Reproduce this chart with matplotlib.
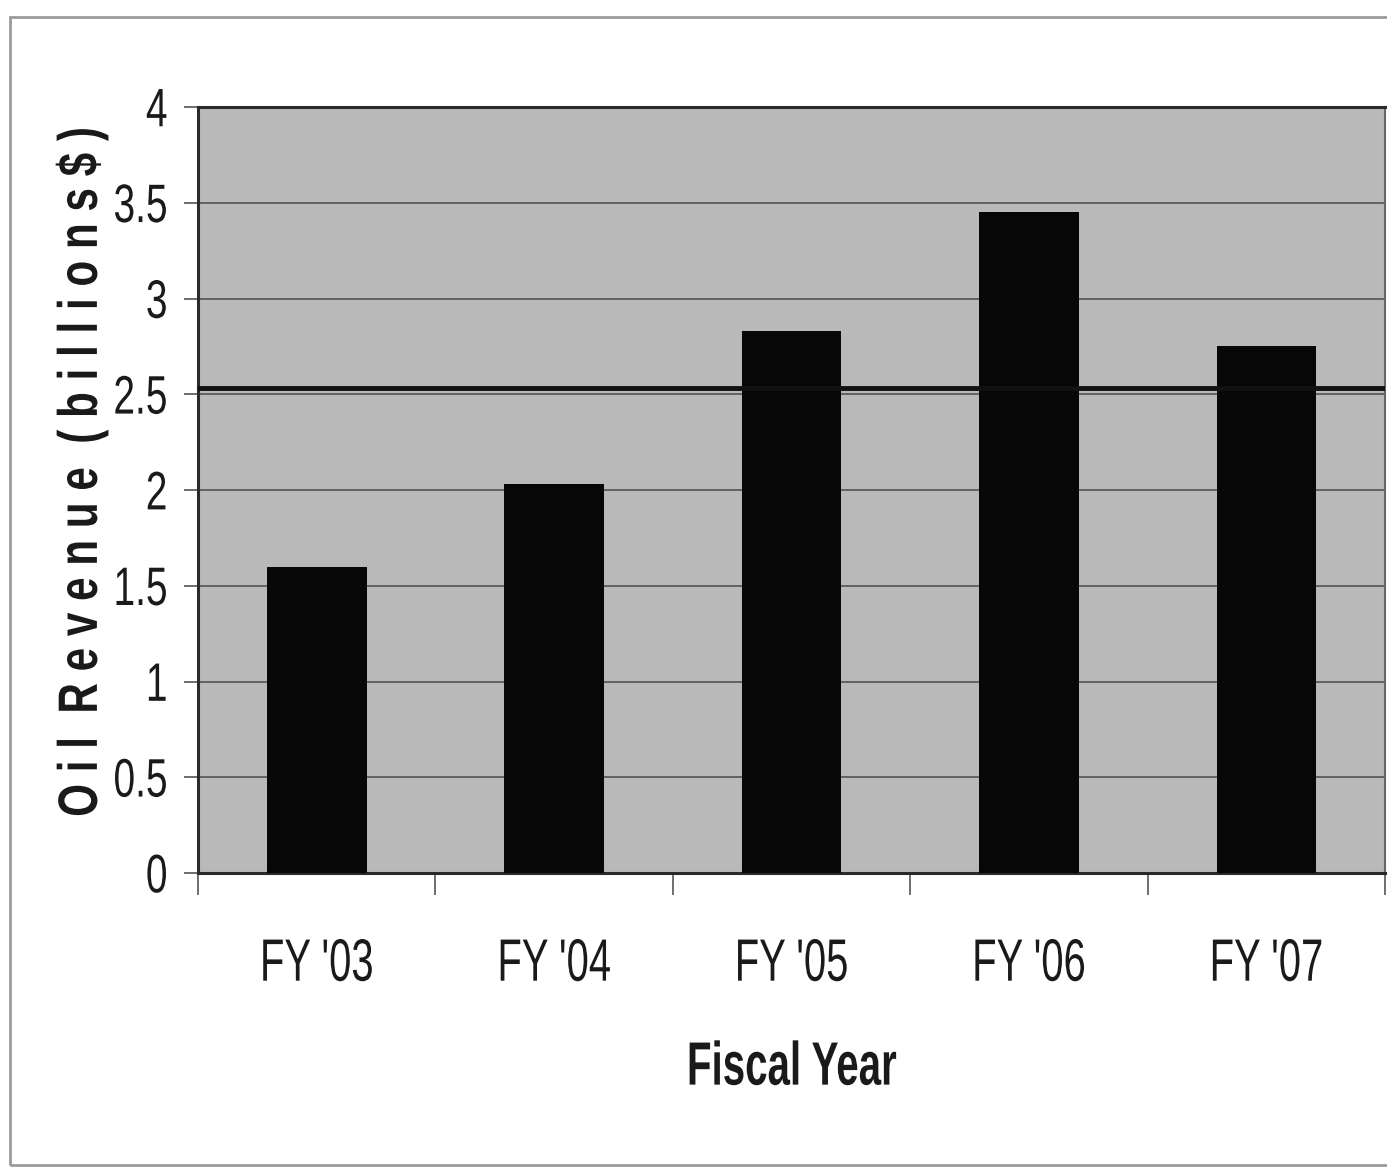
import matplotlib
matplotlib.use("Agg")
import matplotlib.pyplot as plt
import numpy as np
from matplotlib.patches import Rectangle
from matplotlib.patheffects import AbstractPathEffect
from matplotlib.transforms import Affine2D

categories = ["FY '03", "FY '04", "FY '05", "FY '06", "FY '07"]
revenue = [1.60, 2.03, 2.83, 3.45, 2.75]
yticks = [0, 0.5, 1, 1.5, 2, 2.5, 3, 3.5, 4]
ytick_labels = ["0", "0.5", "1", "1.5", "2", "2.5", "3", "3.5", "4"]
average = float(np.mean(revenue))

plt.rcParams['font.family'] = ["Liberation Sans", "DejaVu Sans"]


class Stretch(AbstractPathEffect):
    """Stretch glyphs vertically (about their centre) to imitate a narrow typeface."""
    def __init__(self, sy):
        super().__init__()
        self.sy = sy

    def draw_path(self, renderer, gc, tpath, affine, rgbFace=None):
        v = tpath.vertices
        if len(v) == 0:
            return renderer.draw_path(gc, tpath, affine, rgbFace)
        c = (v[:, 1].min() + v[:, 1].max()) / 2
        t = Affine2D().translate(0, -c).scale(1, self.sy).translate(0, c)
        renderer.draw_path(gc, tpath, t + affine, rgbFace)


fig = plt.figure(figsize=(13.87, 11.70), dpi=100)
fig.patch.set_facecolor("white")
ax = fig.add_axes([0.1428, 0.2538, 0.8558, 0.6547])
ax.set_facecolor("#b9b9b9")

x = np.arange(len(categories))
ax.bar(x, revenue, width=0.42, color="#070707", zorder=3)
ax.axhline(average, color="#111111", lw=3.5, zorder=4)

ax.set_xlim(-0.5, len(categories) - 0.5)
ax.set_ylim(0, 4)
ax.set_yticks(yticks)
ax.set_yticklabels(ytick_labels)
ax.yaxis.grid(True, color="#4a4a4a", lw=1.1, zorder=1)
ax.set_xticks(x)
ax.set_xticklabels(categories)
ax.set_xticks(np.arange(len(categories) + 1) - 0.5, minor=True)
ax.tick_params(axis="x", which="major", length=0, pad=51, labelsize=28.8, labelcolor="#1a1a1a")
ax.tick_params(axis="x", which="minor", length=16, width=1.2, direction="out", color="#555555")
ax.tick_params(axis="y", length=10, width=1.2, direction="out", color="#555555",
               labelsize=28, pad=12, labelcolor="#1a1a1a")

for lbl in ax.get_yticklabels():
    lbl.set_path_effects([Stretch(39 / 28)])
for lbl in ax.get_xticklabels():
    lbl.set_path_effects([Stretch(43 / 28.8)])

for s in ["left", "bottom", "top"]:
    ax.spines[s].set_color("#2a2a2a")
    ax.spines[s].set_linewidth(2.2)
ax.spines["right"].set_color("#666666")
ax.spines["right"].set_linewidth(1.5)

xl = ax.set_xlabel("Fiscal Year", fontsize=29, fontweight="bold", labelpad=47, color="#1a1a1a")
xl.set_path_effects([Stretch(44 / 29)])

ylabel = "  ".join(" ".join(w) for w in ["Oil", "Revenue", "(billions$)"])
yl = fig.text(0.059, 0.597, ylabel, rotation=90, ha="center", va="center",
              fontsize=30.4, fontweight="bold", color="#1a1a1a")
yl.set_path_effects([Stretch(40 / 30.4)])

fig.add_artist(Rectangle((10 / 1387, 5 / 1170), 1.0, 1 - 22 / 1170,
                         transform=fig.transFigure, fill=False,
                         edgecolor="#9a9a9a", lw=2))

fig.savefig("out.png", dpi=100)
